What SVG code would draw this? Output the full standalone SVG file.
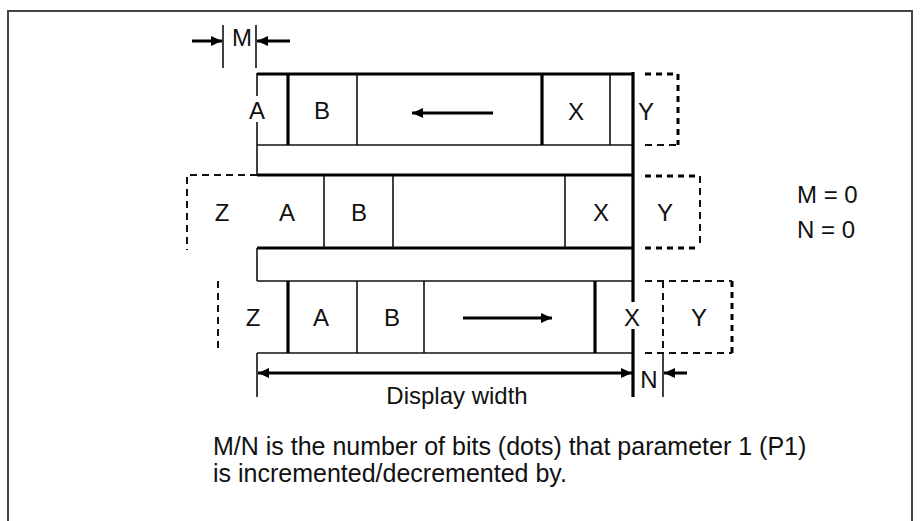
<svg xmlns="http://www.w3.org/2000/svg" width="920" height="521" viewBox="0 0 920 521">
<style>
  text { font-family: "Liberation Sans", Arial, Helvetica, sans-serif; font-size: 24px; fill: #111; }
  .c { text-anchor: middle; }
  .thin { stroke: #111; stroke-width: 1.6; fill: none; }
  .thick { stroke: #000; stroke-width: 3.2; fill: none; }
  .dash { stroke: #111; stroke-width: 2; fill: none; stroke-dasharray: 7 5; }
  .dashk { stroke: #000; stroke-width: 3; fill: none; stroke-dasharray: 6 5; }
  .arr { stroke: #000; stroke-width: 3; fill: none; }
  .body { font-size: 25px; }
</style>
<defs>
  <marker id="ah" markerUnits="userSpaceOnUse" markerWidth="11" markerHeight="10" refX="11" refY="5" orient="auto-start-reverse">
    <path d="M0,0 L11,5 L0,10 z" fill="#000"/>
  </marker>
</defs>
<rect x="8" y="11" width="904" height="540" fill="#fff" stroke="#444" stroke-width="2"/>

<g id="marker-M">
  <line class="thin" x1="223" y1="25" x2="223" y2="68"/>
  <line class="thin" x1="256" y1="25" x2="256" y2="68"/>
  <line class="arr" x1="192" y1="41" x2="222" y2="41" marker-end="url(#ah)"/>
  <line class="arr" x1="290" y1="41" x2="257" y2="41" marker-end="url(#ah)"/>
  <text class="c" x="242" y="46">M</text>
</g>

<g id="row1">
  <line class="thick" x1="257" y1="74" x2="633" y2="74"/>
  <line class="thin" x1="257" y1="145" x2="633" y2="145"/>
  <line class="thin" x1="257" y1="73" x2="257" y2="96"/>
  <line class="thin" x1="257" y1="122" x2="257" y2="145"/>
  <line class="thick" x1="288" y1="74" x2="288" y2="145"/>
  <line class="thin" x1="357" y1="74" x2="357" y2="145"/>
  <line class="thick" x1="542" y1="74" x2="542" y2="145"/>
  <line class="thin" x1="610" y1="74" x2="610" y2="145"/>
  <path class="dashk" d="M645,74 H678"/>
  <path class="dashk" d="M678,74 V145"/>
  <path class="dash" d="M645,145 H678"/>
  <text class="c" x="257" y="119">A</text>
  <text class="c" x="322" y="119">B</text>
  <text class="c" x="576" y="120">X</text>
  <text class="c" x="646" y="120">Y</text>
</g>

<g id="band1">
  <line class="thin" x1="257" y1="145" x2="257" y2="175"/>
</g>

<g id="row2">
  <line class="thick" x1="257" y1="175" x2="633" y2="175"/>
  <line class="thick" x1="257" y1="248" x2="633" y2="248"/>
  <path class="dash" d="M257,175 H187 V250"/>
  <line class="thin" x1="324" y1="175" x2="324" y2="248"/>
  <line class="thin" x1="393" y1="175" x2="393" y2="248"/>
  <line class="thin" x1="565" y1="175" x2="565" y2="248"/>
  <path class="dashk" d="M645,176 H700"/>
  <path class="dash" d="M700,176 V248"/>
  <path class="dashk" d="M645,248 H700"/>
  <text class="c" x="222" y="221">Z</text>
  <text class="c" x="287" y="221">A</text>
  <text class="c" x="359" y="221">B</text>
  <text class="c" x="601" y="221">X</text>
  <text class="c" x="665" y="221">Y</text>
</g>

<g id="band2">
  <line class="thin" x1="257" y1="248" x2="257" y2="281"/>
</g>

<g id="row3">
  <line class="thin" x1="257" y1="281" x2="633" y2="281"/>
  <line class="thin" x1="257" y1="353" x2="633" y2="353"/>
  <path class="dash" d="M218,281 V353" stroke-dasharray="6 5"/>
  <line class="thick" x1="288" y1="281" x2="288" y2="353"/>
  <line class="thin" x1="357" y1="281" x2="357" y2="353"/>
  <line class="thin" x1="424" y1="281" x2="424" y2="353"/>
  <line class="thick" x1="595" y1="281" x2="595" y2="353"/>
  <path class="dash" d="M645,281 H732"/>
  <path class="dashk" d="M732,281 V353"/>
  <path class="dash" d="M645,353 H732"/>
  <path class="dash" d="M663,281 V352"/>
  <text class="c" x="253" y="326">Z</text>
  <text class="c" x="321" y="326">A</text>
  <text class="c" x="392" y="326">B</text>
  <text class="c" x="632" y="326">X</text>
  <text class="c" x="699" y="326">Y</text>
</g>

<g id="right-edge">
  <line class="thick" x1="633" y1="72" x2="633" y2="302"/>
  <line class="thick" x1="633" y1="329" x2="633" y2="397"/>
</g>

<g id="connectors">
  <line class="arr" x1="493" y1="113" x2="412" y2="113" stroke-width="2.2" marker-end="url(#ah)"/>
  <line class="arr" x1="463" y1="318" x2="552" y2="318" marker-end="url(#ah)"/>
  <line class="arr" x1="258" y1="373" x2="632" y2="373" marker-start="url(#ah)" marker-end="url(#ah)"/>
  <line class="arr" x1="687" y1="373" x2="664" y2="373" marker-end="url(#ah)"/>
</g>

<g id="dimension">
  <line class="thin" x1="257" y1="353" x2="257" y2="397"/>
  <line class="thin" x1="663" y1="352" x2="663" y2="397"/>
  <text class="c" x="649" y="388">N</text>
  <text class="c" x="457" y="404">Display width</text>
</g>

<g id="legend">
  <text x="797" y="203">M = 0</text>
  <text x="797" y="238">N = 0</text>
</g>

<g id="caption">
  <text class="body" x="213" y="455">M/N is the number of bits (dots) that parameter 1 (P1)</text>
  <text class="body" x="213" y="482">is incremented/decremented by.</text>
</g>
</svg>
